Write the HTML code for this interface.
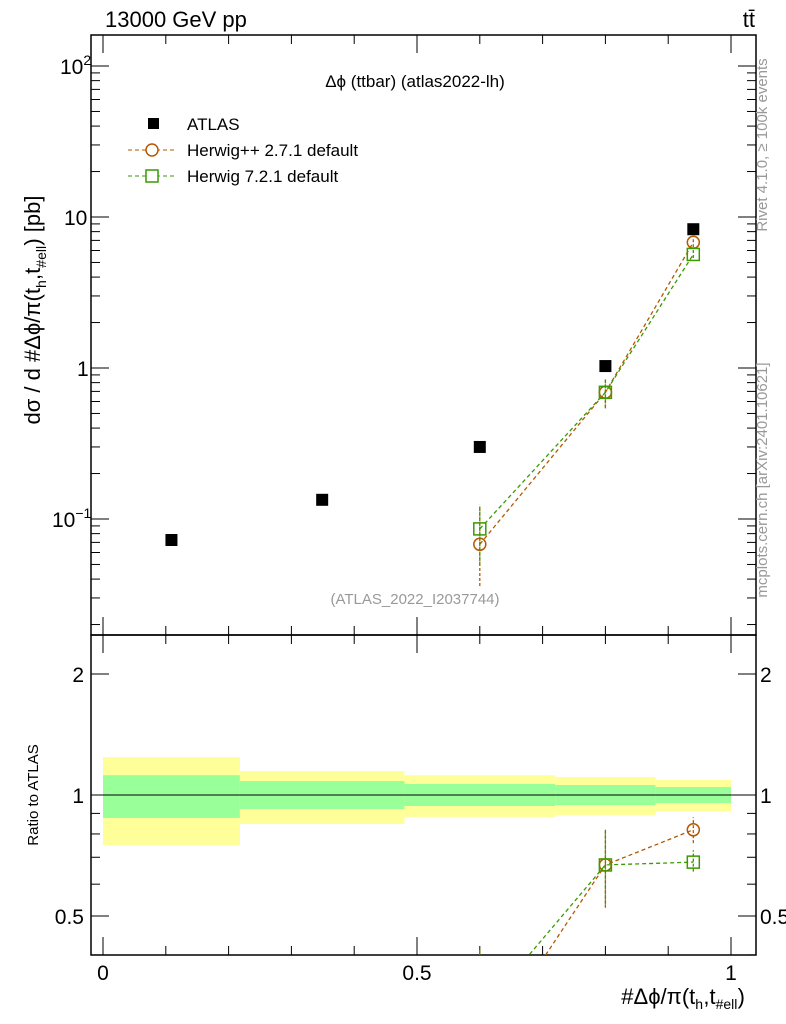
<!DOCTYPE html>
<html><head><meta charset="utf-8"><style>
html,body{margin:0;padding:0;background:#fff;width:786px;height:1024px;overflow:hidden}
svg{font-family:"Liberation Sans",sans-serif;display:block;overflow:hidden}
</style></head><body>
<svg id="c" width="786" height="1024" xmlns="http://www.w3.org/2000/svg"></svg>
<script>
const binEdges=[0,0.218,0.48,0.72,0.88,1];
const binCenters=[0.109,0.349,0.6,0.8,0.94];
const atlasVals=[0.0726,0.134,0.30,1.03,8.3];
const hppX=[0.6,0.8,0.94];
const hppVals=[0.068,0.69,6.8];
const hppErrLo=[0.036,0.54,6.3];
const hppErrHi=[0.122,0.85,7.3];
const h7X=[0.6,0.8,0.94];
const h7Vals=[0.086,0.69,5.65];
const h7ErrLo=[0.05,0.55,5.35];
const h7ErrHi=[0.125,0.84,6.05];
const totLo=[0.751,0.847,0.882,0.892,0.912];
const totHi=[1.243,1.147,1.12,1.109,1.09];
const statLo=[0.877,0.923,0.939,0.944,0.955];
const statHi=[1.12,1.083,1.065,1.059,1.047];
const ratioTicks=[0.5,1,2];
const xTicks=[0,0.5,1];

const NS="http://www.w3.org/2000/svg";
const svg=document.getElementById('c');
function el(t,a,p){const e=document.createElementNS(NS,t);for(const k in a)e.setAttribute(k,a[k]);(p||svg).appendChild(e);return e;}
const X=v=>103+v*628;
const Y=v=>519-(Math.log10(v)+1)*151;
const R=v=>795-Math.log2(v)*121;
const L=91,Rr=756,T=35,M=635,B=955;

let g=el('g',{});

for(let i=0;i<5;i++){
 let r=el('rect',{x:X(binEdges[i]),y:R(totHi[i]),width:X(binEdges[i+1])-X(binEdges[i]),height:R(totLo[i])-R(totHi[i]),fill:'#ffff99'},g);
 
 let s=el('rect',{x:X(binEdges[i]),y:R(statHi[i]),width:X(binEdges[i+1])-X(binEdges[i]),height:R(statLo[i])-R(statHi[i]),fill:'#99ff99'},g);
 
}
el('line',{x1:L,x2:Rr,y1:R(1),y2:R(1),stroke:'#000','stroke-width':1});

let f1=el('rect',{x:L,y:T,width:Rr-L,height:M-T,fill:'none',stroke:'#000','stroke-width':1.5});

let f2=el('rect',{x:L,y:M,width:Rr-L,height:B-M,fill:'none',stroke:'#000','stroke-width':1.5});


for(let v=0;v<=1.0001;v+=0.1){
 const big=Math.abs(v*2-Math.round(v*2))<1e-6;const len=big?18:9;
 for(const [y0,d] of [[T,1],[M,-1],[M,1],[B,-1]]) el('line',{x1:X(v),x2:X(v),y1:y0,y2:y0+d*len,stroke:'#000'});
}
xTicks.forEach(v=>{let t=el('text',{x:X(v),y:980,'font-size':21,'text-anchor':'middle'});t.textContent=String(v);});

for(let e=-2;e<=2;e++)for(let m=1;m<10;m++){const v=m*Math.pow(10,e);const y=Y(v);if(y<T||y>M)continue;
 const len=m==1?18:9;el('line',{x1:L,x2:L+len,y1:y,y2:y,stroke:'#000'});el('line',{x1:Rr,x2:Rr-len,y1:y,y2:y,stroke:'#000'});}
[[100,'10','2'],[10,'10',''],[1,'1',''],[0.1,'10','−1']].forEach(([v,b,s])=>{let t=el('text',{x:s?(s=='2'?60:52):(b=='1'?77:64),y:Y(v)+8,'font-size':21});
 t.textContent=b;if(s){let ts=el('tspan',{dy:-9,'font-size':14},t);ts.textContent=s;}});

[0.4,0.5,0.6,0.7,0.8,0.9,1,2].forEach(v=>{const y=R(v);const len=(v==0.5||v==1||v==2)?18:9;
 el('line',{x1:L,x2:L+len,y1:y,y2:y,stroke:'#000'});el('line',{x1:Rr,x2:Rr-len,y1:y,y2:y,stroke:'#000'});});
ratioTicks.forEach(v=>{for(const [x,a] of [[84,'end'],[760,'start']]){let t=el('text',{x:x,y:R(v)+8,'font-size':21,'text-anchor':a});t.textContent=String(v);}});

let defs=el('defs',{});
let cp=el('clipPath',{id:'cr'},defs);el('rect',{x:L,y:M,width:Rr-L,height:B-M},cp);
let cm=el('clipPath',{id:'cm'},defs);el('rect',{x:L,y:T,width:Rr-L,height:M-T},cm);

function series(xs,vals,lo,hi,col,shape,yf,clip,nm,ref){
 let gg=el('g',{'clip-path':'url(#'+clip+')'});
 
 const val=(i,a)=>ref?a[i]/ref[i]:a[i];
 let pts=xs.map((x,i)=>X(x)+','+yf(val(i,vals))).join(' ');
 el('polyline',{points:pts,fill:'none',stroke:col,'stroke-width':1.3,'stroke-dasharray':'4,3'},gg);
 xs.forEach((x,i)=>{
  el('line',{x1:X(x),x2:X(x),y1:yf(val(i,lo)),y2:yf(val(i,hi)),stroke:col,'stroke-width':1.3,'stroke-dasharray':'3,2'},gg);
  let m;
  if(shape=='c')m=el('circle',{cx:X(x),cy:yf(val(i,vals)),r:6,fill:'none',stroke:col,'stroke-width':1.5},gg);
  else m=el('rect',{x:X(x)-6,y:yf(val(i,vals))-6,width:12,height:12,fill:'none',stroke:col,'stroke-width':1.5},gg);
  
 });
}
const atlasAt=xs=>xs.map(x=>atlasVals[binCenters.indexOf(x)]);
series(hppX,hppVals,hppErrLo,hppErrHi,'#b35900','c',Y,'cm','herwigpp-series');
series(h7X,h7Vals,h7ErrLo,h7ErrHi,'#3a9a00','s',Y,'cm','herwig7-series');
series(hppX,hppVals,hppErrLo,hppErrHi,'#b35900','c',R,'cr','herwigpp-ratio',atlasAt(hppX));
series(h7X,h7Vals,h7ErrLo,h7ErrHi,'#3a9a00','s',R,'cr','herwig7-ratio',atlasAt(h7X));

binCenters.forEach((x,i)=>{let r=el('rect',{x:X(x)-6,y:Y(atlasVals[i])-6,width:12,height:12,fill:'#000'});});

function txt(x,y,s,fs,attrs,name){let t=el('text',Object.assign({x:x,y:y,'font-size':fs},attrs||{}));t.textContent=s;return t;}
txt(105,27,'13000 GeV pp',22,{},'energy-label');
txt(755,27,'tt̄',22,{'text-anchor':'end'},'process-label');
txt(415,87,'Δϕ (ttbar) (atlas2022-lh)',17,{'text-anchor':'middle'},'plot-title');
el('rect',{x:148,y:118,width:11,height:11,fill:'#000'});
txt(187,130,'ATLAS',17,{},'legend-atlas');
el('line',{x1:128,x2:175,y1:150,y2:150,stroke:'#b35900','stroke-dasharray':'4,3'});
el('circle',{cx:152,cy:150,r:6,fill:'#fff',stroke:'#b35900','stroke-width':1.5});
txt(187,156,'Herwig++ 2.7.1 default',17,{},'legend-herwigpp');
el('line',{x1:128,x2:175,y1:176,y2:176,stroke:'#3a9a00','stroke-dasharray':'4,3'});
el('rect',{x:146,y:170,width:12,height:12,fill:'#fff',stroke:'#3a9a00','stroke-width':1.5});
txt(187,182,'Herwig 7.2.1 default',17,{},'legend-herwig7');
txt(415,604,'(ATLAS_2022_I2037744)',15,{'text-anchor':'middle',fill:'#999'},'analysis-id');
let yl=txt(0,0,'',22,{transform:'translate(40,310) rotate(-90)','text-anchor':'middle'},'y-axis-title');
[['dσ / d #Δϕ/π(t',0],['h',1],[',t',0],['#ell',1],[') [pb]',0]].forEach(([s,sub])=>{let ts=el('tspan',sub?{dy:6,'font-size':14}:{dy:0},yl);ts.textContent=s;if(sub){let r=el('tspan',{dy:-6,'font-size':1},yl);r.textContent=' ';}});
txt(0,0,'Ratio to ATLAS',15,{transform:'translate(38,795) rotate(-90)','text-anchor':'middle'},'ratio-axis-title');
let xl=txt(745,1004,'',22,{'text-anchor':'end'},'x-axis-title');
[['#Δϕ/π(t',0],['h',1],[',t',0],['#ell',1],[')',0]].forEach(([s,sub])=>{let ts=el('tspan',sub?{dy:5,'font-size':14}:{dy:0},xl);ts.textContent=s;if(sub){let r=el('tspan',{dy:-5,'font-size':1},xl);r.textContent=' ';}});
txt(0,0,'Rivet 4.1.0, ≥ 100k events',15,{transform:'translate(767,145) rotate(-90)','text-anchor':'middle',fill:'#999'},'rivet-label');
txt(0,0,'mcplots.cern.ch [arXiv:2401.10621]',15,{transform:'translate(767,480) rotate(-90)','text-anchor':'middle',fill:'#999'},'mcplots-label');
</script>
</body></html>
